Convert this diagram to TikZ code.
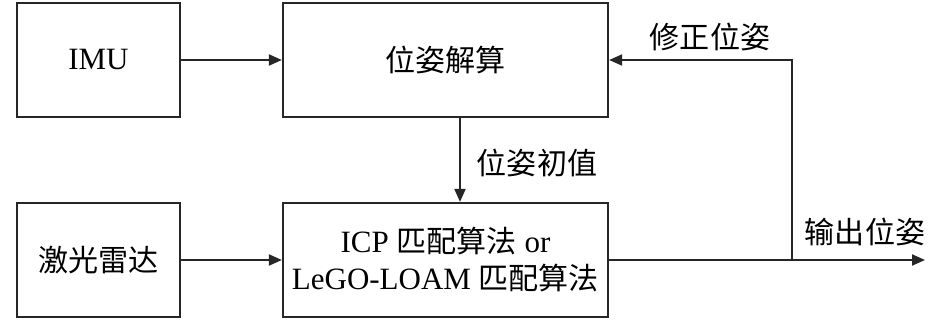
\documentclass[tikz,border=0pt]{standalone}
\usepackage{fontspec}
\setmainfont{Liberation Serif}
\newfontfamily\cjk{Noto Sans CJK SC}[Scale=0.97]
\usetikzlibrary{arrows.meta}
\begin{document}
\begin{tikzpicture}[x=1pt,y=-1pt,
  box/.style={draw=black!85,line width=2.2pt,minimum width=#1,minimum height=114pt,inner sep=0pt,align=center,font=\fontsize{31}{37}\selectfont},
  conn/.style={draw=black!85,line width=2pt,-{Triangle[length=13pt,width=11pt]}},
  lbl/.style={font=\fontsize{31}{36}\selectfont\cjk,inner sep=0pt}]
\useasboundingbox (0,0) rectangle (945,321);
\node[box=163pt] (imu) at (98.5,60) {IMU};
\node[box=325pt] (solve) at (445.5,60) {\cjk 位姿解算};
\node[box=163pt] (lidar) at (98.5,260) {\cjk 激光雷达};
\node[box=325pt] (icp) at (445.5,260) {ICP {\cjk 匹配算法} or\\LeGO-LOAM {\cjk 匹配算法}};
\coordinate (out) at (925,260);
\coordinate (fb) at (792,260);
\draw[conn] (imu) -- (solve);
\draw[conn] (lidar) -- (icp);
\draw[conn] (solve.south -| 460,0) -- (icp.north -| 460,0);
\draw[conn] (icp) -- (out);
\draw[conn] (fb) |- (solve.east);
\node[lbl] (l1) at (537,163) {位姿初值};
\node[lbl] (l2) at (710,37) {修正位姿};
\node[lbl] (l3) at (865,232) {输出位姿};
\end{tikzpicture}
\end{document}
